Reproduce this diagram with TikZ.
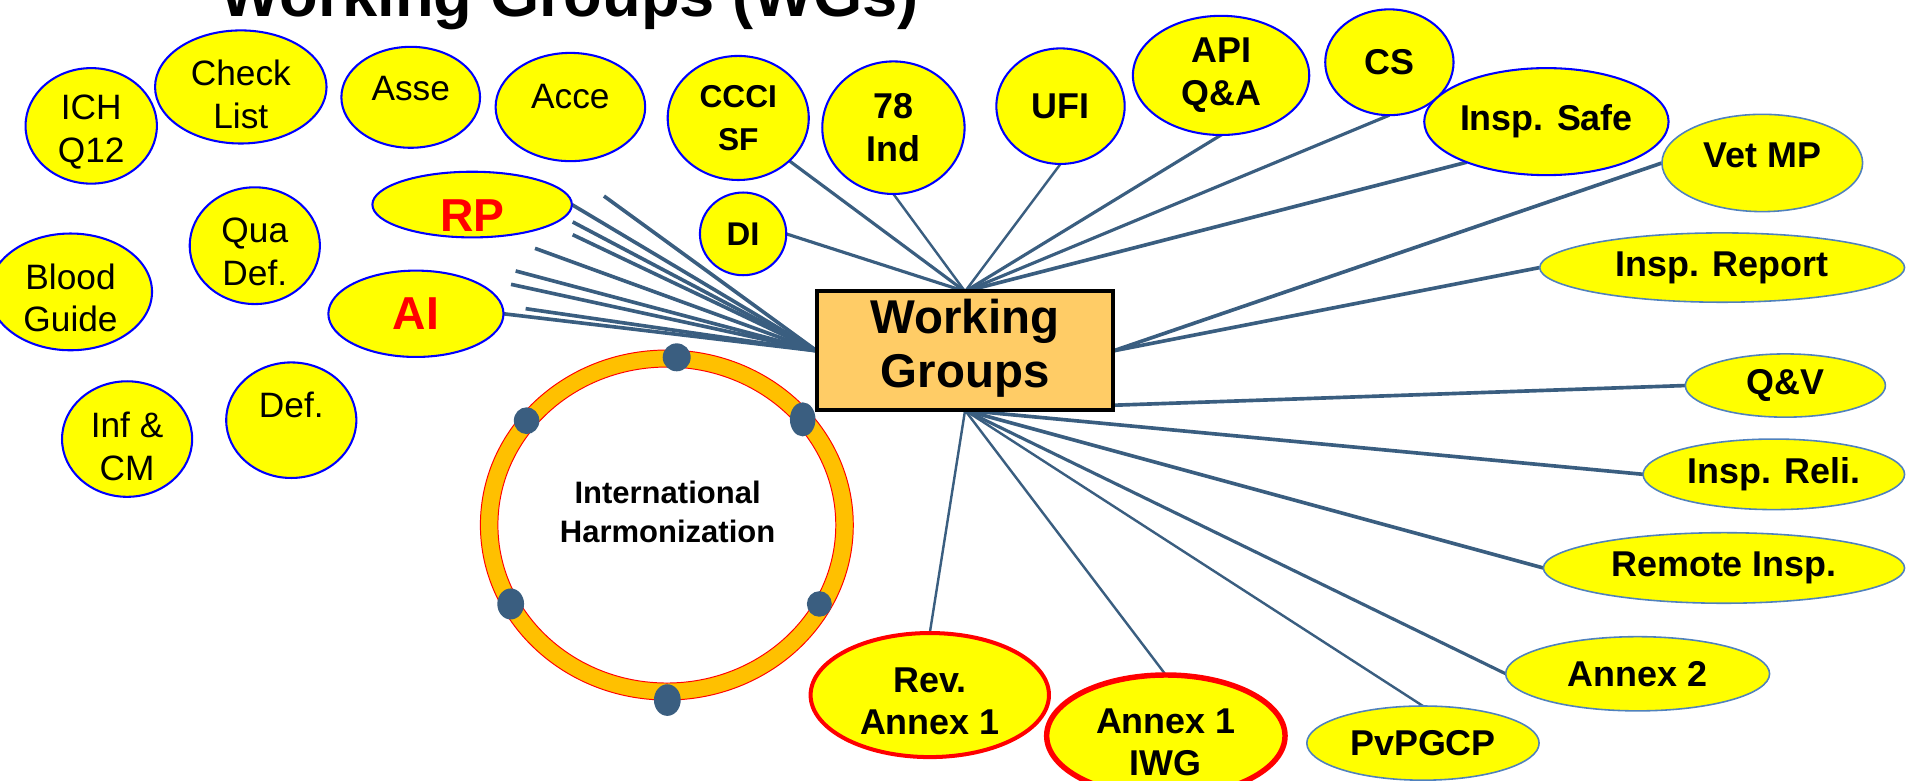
\documentclass[tikz,border=0pt]{standalone}
\usepackage{fontspec}
\setsansfont{Liberation Sans}
\usetikzlibrary{shapes.geometric}
\definecolor{wgyellow}{RGB}{255,255,0}
\definecolor{wgblue}{RGB}{0,0,255}
\definecolor{wgsteel}{RGB}{79,129,189}
\definecolor{wgline}{RGB}{58,94,128}
\definecolor{boxorange}{RGB}{255,204,102}
\definecolor{ringorange}{RGB}{255,192,0}
\pgfdeclarelayer{background}
\pgfsetlayers{background,main}
% raise (or lower) the lines of a label inside its shape
\newcommand\nudge[2]{\raisebox{#1}[\height][\depth]{\vbox{\let\\\cr\halign{\hfil##\hfil\cr#2\crcr}}}}
\tikzset{
  wgpic/.style={
    x=1pt,y=-1pt
    ,inner sep=0pt
    ,outer sep=0pt
  }
  ,esize/.style 2 args={minimum width=#1pt,minimum height=#2pt}
  ,heading/.style={font={\sffamily\bfseries\fontsize{52}{60}\selectfont},anchor=base}
  ,topic/.style={ellipse,draw=wgblue,line width=1.7pt,fill=wgyellow
    ,align=center
    ,font={\sffamily\fontsize{29}{35}\selectfont\color{black}}
  }
  ,btopic/.style={topic,font={\sffamily\bfseries\fontsize{29.5}{35}\selectfont}}
  ,steeltopic/.style={btopic,draw=wgsteel,line width=1.3pt}
  ,redtopic/.style={btopic,draw=red,line width=3.3pt}
  ,hottopic/.style={topic,font={\sffamily\bfseries\fontsize{38}{44}\selectfont\color{red}}}
  ,wgbox/.style={draw=black,line width=3.3pt,fill=boxorange,align=center
    ,font={\sffamily\bfseries\fontsize{39}{44}\selectfont}
  }
  ,link/.style={draw=wgline,line width=3pt}
  ,toplink/.style={link,line width=2.6pt}
  ,thinlink/.style={link,line width=2pt}
  ,ringedge/.style={draw=red,line width=0.8pt}
  ,ringdot/.style={ellipse,fill=wgline}
  ,harmtext/.style={align=center,font={\sffamily\bfseries\fontsize{25.5}{32}\selectfont}}
}
\begin{document}
\begin{tikzpicture}[wgpic]
  \useasboundingbox (0,0) rectangle (1568,642);
  \clip (0,0) rectangle (1568,642);

  % title, cut at the top
  \node[heading] (title) at (468.5,13.5) {Working Groups (WGs)};

  % topics without a link
  \node[topic,esize={108}{95}] (ich) at (75,103.5) {\nudge{-5pt}{ICH\\Q12}};
  \node[topic,esize={141}{93}] (chk) at (198,71.5) {\nudge{-6pt}{Check\\List}};
  \node[topic,esize={114}{83}] (asse) at (337.7,80) {\nudge{7pt}{Asse}};
  \node[topic,esize={123}{89}] (acce) at (469,88) {\nudge{9pt}{Acce}};
  \node[topic,esize={107}{96}] (qua) at (209.5,202) {\nudge{-5pt}{Qua\\Def.}};
  \node[topic,esize={134}{96}] (blood) at (58,240) {\nudge{-5pt}{Blood\\Guide}};
  \node[topic,esize={107}{95}] (inf) at (104.5,361) {\nudge{-6pt}{Inf \&\\CM}};
  \node[topic,esize={107}{95}] (def) at (239.5,345.5) {\nudge{12.5pt}{Def.}};

  % left fan
  \node[hottopic,esize={164}{54}] (rp) at (388.2,168.2) {\nudge{-9pt}{RP}};
  \node[hottopic,esize={144}{71}] (ai) at (342,258) {AI};
  \coordinate (lf1) at (496.6,161.2);
  \coordinate (lf2) at (470.9,182.5);
  \coordinate (lf3) at (470.9,193);
  \coordinate (lf4) at (439.9,204.2);
  \coordinate (lf5) at (424,222.8);
  \coordinate (lf6) at (420.2,233.8);
  \coordinate (lf7) at (432.2,253.8);

  % top fan
  \node[btopic,esize={71}{68},font={\sffamily\bfseries\fontsize{27}{33}\selectfont}] (di) at (611,192.3) {DI};
  \node[btopic,esize={116}{102},font={\sffamily\bfseries\fontsize{26}{35}\selectfont}] (ccci) at (607,97) {CCCI\\SF};
  \node[btopic,esize={117}{109}] (ind) at (734.6,105) {78\\Ind};
  \node[btopic,esize={105.5}{95}] (ufi) at (872,87.3) {UFI};
  \node[btopic,esize={145}{98}] (api) at (1004,62) {API\\Q\&A};
  \node[btopic,esize={105.5}{87}] (cs) at (1142.4,51.2) {CS};
  \node[btopic,esize={177}{88}] (safe) at (1271.5,100) {Insp. Safe};

  % right and bottom fans
  \node[steeltopic,esize={165}{80}] (vet) at (1449,134) {\nudge{6pt}{Vet MP}};
  \node[steeltopic,esize={300}{57}] (rep) at (1416,220) {Insp. Report};
  \node[steeltopic,esize={164.5}{52}] (qv) at (1468,317) {Q\&V};
  \node[steeltopic,esize={215}{58}] (reli) at (1458.5,390) {Insp. Reli.};
  \node[steeltopic,esize={297}{58}] (remote) at (1417.5,467) {Remote Insp.};
  \node[steeltopic,esize={217}{61}] (annex2) at (1346.5,554) {Annex 2};
  \node[steeltopic,esize={191}{61}] (pvp) at (1170,611) {PvPGCP};
  \node[redtopic,esize={196}{100},line width=4.5pt] (iwg) at (958.6,605) {\nudge{-5.5pt}{Annex 1\\IWG}};
  \node[redtopic,esize={196}{102}] (rev) at (764.5,571.5) {\nudge{-5pt}{Rev.\\Annex 1}};

  % centre box
  \node[wgbox,esize={243.8}{97.8}] (wg) at (793.5,288.5) {\nudge{2pt}{Working\\Groups}};

  % harmonization ring
  \coordinate (ringc) at (548.3,431.7);
  \draw[ringedge,fill=ringorange] (ringc) ellipse [x radius=153.3pt,y radius=143.9pt];
  \draw[ringedge,fill=white] (ringc) ellipse [x radius=138.9pt,y radius=129.9pt];
  \foreach \px/\py/\dw/\dh [count=\i] in {556.4/293.8/23/23,660/344.8/21/28,433/345.9/21/22,
      419.9/496.6/22/25.5,673.7/496.6/20.5/21,548.7/575.6/22/26}
    \node[ringdot,esize={\dw}{\dh}] (dot\i) at (\px,\py) {};
  \node[harmtext] (harm) at (548.9,421) {International\\Harmonization};

  \begin{pgfonlayer}{background}
    \foreach \tip in {lf1,lf2,lf3,lf4,lf5,lf6,lf7}
      \draw[link] (wg.west) -- (\tip);
    \draw[link] (wg.west) -- (rp.east);
    \draw[link] (wg.west) -- (ai.east);

    \draw[toplink] (wg.north) -- (di.east);
    \draw[toplink] (wg.north) -- (ccci.-40);
    \draw[thinlink] (wg.north) -- (ind.south);
    \draw[thinlink] (wg.north) -- (ufi.south);
    \draw[toplink] (wg.north) -- (api.south);
    \draw[toplink] (wg.north) -- (cs.south);
    \draw[link] (wg.north) -- (safe.207);

    \draw[link] (wg.east) -- (vet.west);
    \draw[link] (wg.east) -- (rep.west);

    \draw[link] (wg.south) -- (qv.west);
    \draw[link] (wg.south) -- (reli.west);
    \draw[link] (wg.south) -- (remote.west);
    \draw[toplink] (wg.south) -- (annex2.west);
    \draw[thinlink] (wg.south) -- (pvp.north);
    \draw[thinlink] (wg.south) -- (iwg.north);
    \draw[thinlink] (wg.south) -- (rev.north);
  \end{pgfonlayer}
\end{tikzpicture}
\end{document}
